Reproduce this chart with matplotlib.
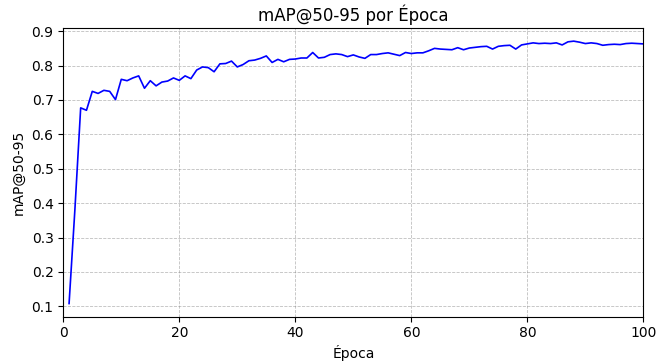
import matplotlib
matplotlib.use("Agg")
import matplotlib.pyplot as plt

# Epochs and mAP@50-95 values
epochs = list(range(1, 101))
map_50_95 = [
    0.108, 0.380, 0.677, 0.670, 0.725, 0.719, 0.728, 0.725, 0.701, 0.760,
    0.756, 0.764, 0.770, 0.734, 0.756, 0.741, 0.752, 0.755, 0.764, 0.757,
    0.770, 0.762, 0.787, 0.796, 0.794, 0.782, 0.805, 0.806, 0.813, 0.796,
    0.803, 0.814, 0.816, 0.821, 0.828, 0.809, 0.818, 0.811, 0.818, 0.819,
    0.822, 0.822, 0.838, 0.822, 0.824, 0.832, 0.834, 0.832, 0.826, 0.831,
    0.825, 0.821, 0.832, 0.832, 0.835, 0.837, 0.833, 0.829, 0.838, 0.835,
    0.837, 0.837, 0.843, 0.850, 0.848, 0.847, 0.846, 0.852, 0.846, 0.851,
    0.853, 0.855, 0.856, 0.848, 0.856, 0.858, 0.859, 0.848, 0.860, 0.863,
    0.866, 0.864, 0.865, 0.864, 0.866, 0.860, 0.869, 0.871, 0.868, 0.864,
    0.866, 0.864, 0.859, 0.861, 0.862, 0.861, 0.864, 0.865, 0.864, 0.863,
]

fig, ax = plt.subplots(figsize=(6.66, 3.64), dpi=100)
fig.subplots_adjust(left=0.095, right=0.966, top=0.923, bottom=0.13)

ax.plot(epochs, map_50_95, color="blue", linewidth=1.2)

ax.set_title("mAP@50-95 por Época", fontsize=12, pad=5)
ax.set_xlabel("Época", labelpad=3)
ax.set_ylabel("mAP@50-95")
ax.set_xlim(0, 100)
ax.grid(True, linestyle="--", linewidth=0.6, color="gray", alpha=0.5)

fig.savefig("out.png", dpi=100)
